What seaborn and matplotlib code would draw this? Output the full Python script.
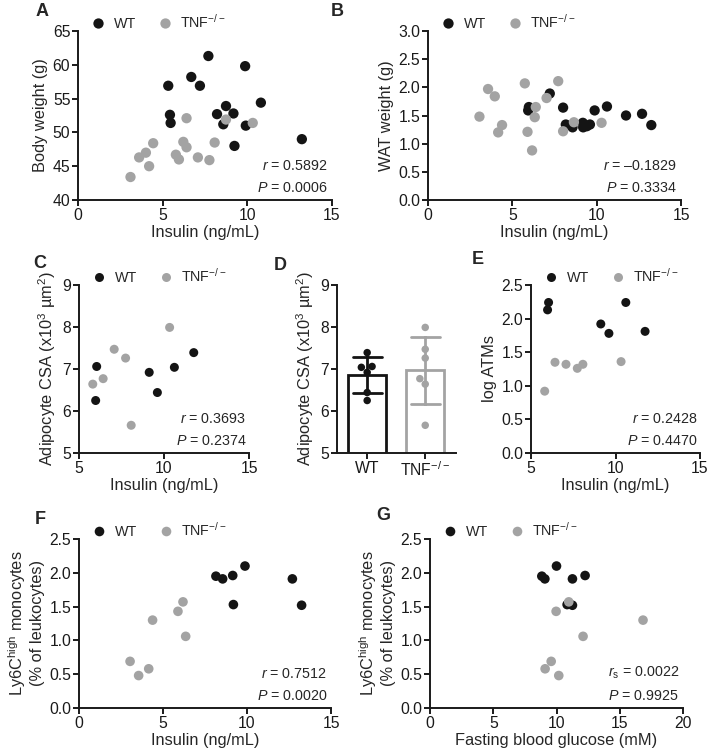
import numpy as np
import pandas as pd
import matplotlib
matplotlib.use("Agg")
import matplotlib.pyplot as plt
from matplotlib.ticker import FormatStrFormatter
import seaborn as sns

sns.set_style("ticks")
plt.rcParams['font.family'] = ['Liberation Sans', 'DejaVu Sans']
plt.rcParams['mathtext.fontset'] = 'custom'
plt.rcParams['mathtext.rm'] = 'Liberation Sans'
plt.rcParams['mathtext.it'] = 'Liberation Sans:italic'
plt.rcParams['axes.linewidth'] = 1.4
plt.rcParams['xtick.major.width'] = 1.4
plt.rcParams['ytick.major.width'] = 1.4
plt.rcParams['xtick.major.size'] = 4
plt.rcParams['ytick.major.size'] = 4
plt.rcParams['xtick.color'] = '#1a1a1a'
plt.rcParams['ytick.color'] = '#1a1a1a'
plt.rcParams['axes.edgecolor'] = '#1a1a1a'

WT = 'WT'
KO = 'TNF$^{\\mathrm{-/-}}$'
palette = {WT: '#141414', KO: '#a3a3a3'}

# -----------------------------
# DATA
# -----------------------------
# A: body weight vs insulin
a_wt_x = [7.70, 9.87, 5.33, 6.69, 7.20, 10.80, 8.74, 8.21, 9.18, 5.43, 5.47, 8.58, 9.91, 9.24, 13.22]
a_wt_y = [61.3, 59.8, 56.9, 58.2, 56.9, 54.4, 53.9, 52.7, 52.8, 52.6, 51.4, 51.2, 51.0, 48.0, 49.0]
a_ko_x = [3.10, 3.61, 4.01, 4.20, 4.44, 5.78, 5.96, 6.41, 6.22, 6.41, 7.08, 7.76, 8.07, 8.74, 10.32]
a_ko_y = [43.4, 46.3, 47.0, 45.0, 48.4, 46.7, 46.0, 52.1, 48.6, 47.8, 46.3, 45.9, 48.5, 51.9, 51.4]

# B: WAT weight vs insulin
b_wt_x = [7.22, 5.98, 5.94, 8.01, 9.88, 10.61, 11.74, 12.69, 13.24, 8.17, 8.57, 9.18, 9.20, 9.60, 9.42]
b_wt_y = [1.89, 1.65, 1.59, 1.64, 1.59, 1.66, 1.50, 1.53, 1.33, 1.34, 1.29, 1.37, 1.29, 1.34, 1.31]
b_ko_x = [3.05, 3.56, 3.96, 4.16, 4.39, 5.74, 5.90, 6.17, 6.33, 6.39, 7.03, 7.72, 8.01, 8.65, 10.29]
b_ko_y = [1.48, 1.97, 1.84, 1.20, 1.33, 2.07, 1.21, 0.88, 1.47, 1.65, 1.81, 2.11, 1.22, 1.38, 1.37]

# C/D/E: adipocyte CSA and ATMs
c_wt_x = [6.04, 5.98, 9.13, 9.61, 10.61, 11.75]
c_wt_y = [7.06, 6.25, 6.92, 6.44, 7.04, 7.39]
c_ko_x = [5.81, 6.42, 7.07, 7.74, 8.07, 10.33]
c_ko_y = [6.64, 6.77, 7.47, 7.26, 5.66, 7.99]
e_wt_y = [2.24, 2.13, 1.92, 1.78, 2.24, 1.81]
e_ko_y = [0.92, 1.35, 1.32, 1.26, 1.32, 1.36]

# F/G: Ly6C high monocytes
f_wt_x = [8.15, 8.55, 9.15, 9.88, 9.19, 12.70, 13.25]
f_ko_x = [3.04, 3.55, 4.15, 4.38, 5.89, 6.19, 6.35]
ly6c_wt = [1.95, 1.91, 1.96, 2.10, 1.53, 1.91, 1.52]
ly6c_ko = [0.69, 0.48, 0.58, 1.30, 1.43, 1.57, 1.06]
g_wt_x = [8.84, 9.08, 12.26, 10.00, 10.84, 11.26, 11.26]
g_ko_x = [9.58, 10.18, 9.10, 16.84, 9.97, 10.97, 12.10]

stats = {
    'A': ('$\\mathit{r}$ = 0.5892', '$\\mathit{P}$ = 0.0006'),
    'B': ('$\\mathit{r}$ = \u20130.1829', '$\\mathit{P}$ = 0.3334'),
    'C': ('$\\mathit{r}$ = 0.3693', '$\\mathit{P}$ = 0.2374'),
    'E': ('$\\mathit{r}$ = 0.2428', '$\\mathit{P}$ = 0.4470'),
    'F': ('$\\mathit{r}$ = 0.7512', '$\\mathit{P}$ = 0.0020'),
    'G': ('$\\mathit{r}_{\\mathrm{s}}$ = 0.0022', '$\\mathit{P}$ = 0.9925'),
}

csa_label = 'Adipocyte CSA (x10$^{\\mathrm{3}}$ \u00b5m$^{\\mathrm{2}}$)'
ly6c_label = 'Ly6C$^{\\mathrm{high}}$ monocytes\n(% of leukocytes)'
ins_label = 'Insulin (ng/mL)'

FS_TICK = 11.3
FS_LAB = 11.8
FS_LEG = 10.3
FS_STAT = 10.3


def make_df(wx, wy, kx, ky):
    return pd.DataFrame({
        'x': list(wx) + list(kx),
        'y': list(wy) + list(ky),
        'group': [WT] * len(wx) + [KO] * len(kx),
    })


def scatter_panel(ax, df, xlabel, ylabel, xlim, xticks, ylim, yticks, stat, size=55, yfmt=None):
    sns.scatterplot(data=df, x='x', y='y', hue='group', palette=palette,
                    s=size, edgecolor='none', ax=ax, clip_on=False, zorder=3)
    sns.move_legend(ax, 'lower left', bbox_to_anchor=(0.0, 0.965), ncol=2,
                    frameon=False, title=None, fontsize=FS_LEG, handletextpad=0.1,
                    columnspacing=1.0, borderaxespad=0.0, markerscale=1.0)
    ax.set_xlim(xlim)
    ax.set_ylim(ylim)
    ax.set_xticks(xticks)
    ax.set_yticks(yticks)
    if yfmt:
        ax.yaxis.set_major_formatter(FormatStrFormatter(yfmt))
    ax.set_xlabel(xlabel, fontsize=FS_LAB, labelpad=2)
    ax.set_ylabel(ylabel, fontsize=FS_LAB, labelpad=3)
    ax.tick_params(labelsize=FS_TICK, pad=1.5)
    ax.text(0.985, 0.16, stat[0], transform=ax.transAxes, ha='right', va='bottom', fontsize=FS_STAT)
    ax.text(0.985, 0.03, stat[1], transform=ax.transAxes, ha='right', va='bottom', fontsize=FS_STAT)
    sns.despine(ax=ax)


W, H = 709, 753
fig = plt.figure(figsize=(W / 100, H / 100), dpi=100)


def add_ax(x0, x1, y0, y1):
    return fig.add_axes([x0 / W, 1 - y1 / H, (x1 - x0) / W, (y1 - y0) / H])


axA = add_ax(78, 332, 31, 200)
axB = add_ax(428, 681, 31, 200)
axC = add_ax(79, 249, 285, 453)
axD = add_ax(337, 456, 285, 453)
axE = add_ax(531, 700, 285, 453)
axF = add_ax(79, 331, 539, 708)
axG = add_ax(430, 683, 539, 708)

scatter_panel(axA, make_df(a_wt_x, a_wt_y, a_ko_x, a_ko_y), ins_label, 'Body weight (g)',
              (0, 15), [0, 5, 10, 15], (40, 65), [40, 45, 50, 55, 60, 65], stats['A'])
scatter_panel(axB, make_df(b_wt_x, b_wt_y, b_ko_x, b_ko_y), ins_label, 'WAT weight (g)',
              (0, 15), [0, 5, 10, 15], (0, 3), np.arange(0, 3.01, 0.5), stats['B'], yfmt='%.1f')
scatter_panel(axC, make_df(c_wt_x, c_wt_y, c_ko_x, c_ko_y), ins_label, csa_label,
              (5, 15), [5, 10, 15], (5, 9), [5, 6, 7, 8, 9], stats['C'], size=42)
scatter_panel(axE, make_df(c_wt_x, e_wt_y, c_ko_x, e_ko_y), ins_label, 'log ATMs',
              (5, 15), [5, 10, 15], (0, 2.5), np.arange(0, 2.51, 0.5), stats['E'], size=42, yfmt='%.1f')
scatter_panel(axF, make_df(f_wt_x, ly6c_wt, f_ko_x, ly6c_ko), ins_label, ly6c_label,
              (0, 15), [0, 5, 10, 15], (0, 2.5), np.arange(0, 2.51, 0.5), stats['F'], size=48, yfmt='%.1f')
scatter_panel(axG, make_df(g_wt_x, ly6c_wt, g_ko_x, ly6c_ko), 'Fasting blood glucose (mM)', ly6c_label,
              (0, 20), [0, 5, 10, 15, 20], (0, 2.5), np.arange(0, 2.51, 0.5), stats['G'], size=48, yfmt='%.1f')

# -----------------------------
# D: bar + points
# -----------------------------
dfD = pd.DataFrame({'group': [WT] * len(c_wt_y) + [KO] * len(c_ko_y),
                    'csa': c_wt_y + c_ko_y})
order = [WT, KO]
for g in order:
    sns.barplot(data=dfD[dfD.group == g], x='group', y='csa', order=order,
                color=palette[g], fill=False, errorbar='sd', capsize=0.5,
                width=0.66, linewidth=2, err_kws={'color': palette[g], 'linewidth': 2},
                ax=axD)
sns.swarmplot(data=dfD, x='group', y='csa', hue='group', order=order, palette=palette,
              size=5.4, legend=False, ax=axD, zorder=4)
axD.set_xlim(-0.52, 1.53)
axD.set_ylim(5, 9)
axD.set_yticks([5, 6, 7, 8, 9])
axD.set_xticks([0, 1], [WT, KO])
axD.set_xlabel('')
axD.set_ylabel(csa_label, fontsize=FS_LAB, labelpad=3)
axD.tick_params(labelsize=FS_TICK, pad=1.5)
sns.despine(ax=axD)

# panel letters
for lab, (px, py) in {'A': (42, 12), 'B': (337, 12), 'C': (40, 263), 'D': (280, 265),
                      'E': (478, 260), 'F': (40, 520), 'G': (383, 515)}.items():
    fig.text(px / W, 1 - py / H, lab, fontsize=13, fontweight='bold', ha='center', va='center')

fig.savefig('out.png', dpi=100)
